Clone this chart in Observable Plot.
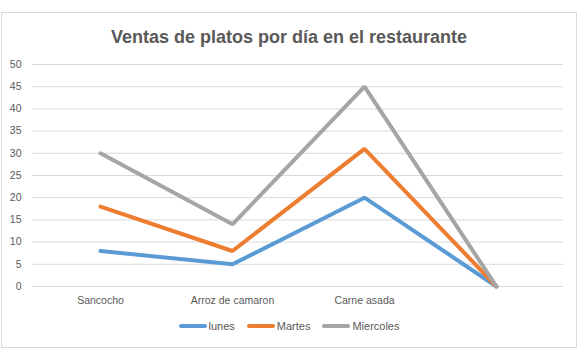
<!DOCTYPE html>
<html>
<head>
<meta charset="utf-8">
<script src="https://cdn.jsdelivr.net/npm/d3@7"></script>
<script src="https://cdn.jsdelivr.net/npm/@observablehq/plot@0.6"></script>
<style>
  html, body { margin: 0; padding: 0; background: #fff; }
  #wrap { position: relative; width: 578px; height: 360px; overflow: hidden; font-family: "Liberation Sans", Arial, sans-serif; }
  #frame { position: absolute; left: 1px; top: 12px; width: 574px; height: 334px; border: 1px solid #d9d9d9; }
  #title { position: absolute; left: 0; width: 578px; top: 27px; text-align: center; font-size: 18px; font-weight: bold; color: #595959; }
  #chart { position: absolute; left: 0; top: 0; }
  #legend { position: absolute; left: 0; width: 578px; top: 320px; display: flex; justify-content: center; gap: 12px; font-size: 11px; color: #595959; }
  .item { display: flex; align-items: center; gap: 2px; }
  .sw { width: 28px; height: 4px; border-radius: 2px; display: inline-block; }
</style>
</head>
<body>
<div id="wrap">
  <div id="frame"></div>
  <div id="chart"></div>
  <div id="title"></div>
  <div id="legend"></div>
</div>
<script>
const titleText = "Ventas de platos por día en el restaurante";
const categories = ["Sancocho", "Arroz de camaron", "Carne asada", ""];
const seriesNames = ["lunes", "Martes", "Miercoles"];
const lunes = [8, 5, 20, 0];
const martes = [18, 8, 31, 0];
const miercoles = [30, 14, 45, 0];
const colors = ["#5B9BD5", "#ED7D31", "#A5A5A5"];
const yTicks = [0, 5, 10, 15, 20, 25, 30, 35, 40, 45, 50];

const allValues = [lunes, martes, miercoles];
const data = [];
seriesNames.forEach((s, i) => {
  categories.forEach((c, j) => data.push({serie: s, plato: c, ventas: allValues[i][j]}));
});

document.getElementById("title").textContent = titleText;

const chart = Plot.plot({
  width: 578,
  height: 360,
  marginTop: 64,
  marginBottom: 74,
  marginLeft: 32,
  marginRight: 15,
  style: {fontFamily: "Liberation Sans, Arial, sans-serif", fontSize: "10.5px", color: "#595959", background: "transparent"},
  x: {type: "point", domain: categories, padding: 0.5, label: null},
  y: {domain: [0, 50], ticks: yTicks, label: null},
  color: {domain: seriesNames, range: colors},
  marks: [
    Plot.gridY(yTicks, {stroke: "#d9d9d9", strokeOpacity: 1, strokeWidth: 1}),
    Plot.axisY(yTicks, {tickSize: 0, tickPadding: 11, label: null, fill: "#595959"}),
    Plot.axisX({tickSize: 0, tickPadding: 10, label: null, fill: "#595959"}),
    Plot.line(data, {x: "plato", y: "ventas", z: "serie", stroke: "serie", strokeWidth: 4, strokeLinecap: "round", strokeLinejoin: "miter"})
  ]
});
document.getElementById("chart").appendChild(chart);

const legend = document.getElementById("legend");
seriesNames.forEach((s, i) => {
  const it = document.createElement("div");
  it.className = "item";
  const sw = document.createElement("span");
  sw.className = "sw";
  sw.style.background = colors[i];
  const t = document.createElement("span");
  t.textContent = s;
  it.appendChild(sw);
  it.appendChild(t);
  legend.appendChild(it);
});
</script>
</body>
</html>
